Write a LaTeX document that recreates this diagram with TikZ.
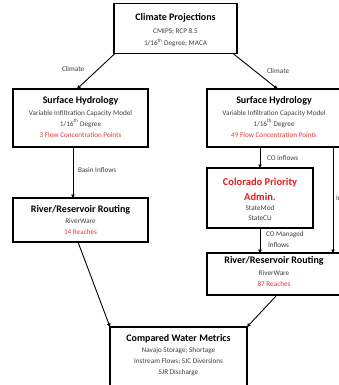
\documentclass[tikz,border=0pt]{standalone}
\usepackage{fontspec}
\setmainfont{Carlito}
\usepackage{xcolor}
\usepackage{tikz}
\usetikzlibrary{arrows.meta}
\definecolor{inkgray}{RGB}{64,64,64}
\definecolor{inkred}{RGB}{228,58,58}
\definecolor{cored}{RGB}{232,28,28}

\begin{document}
\begin{tikzpicture}[x=1pt,y=-1pt,
  box/.style={draw=black,line width=1.5pt,fill=white,inner sep=0pt,outer sep=0pt},
  title/.style={inner sep=0pt,outer sep=0pt,anchor=base,text=black,font=\bfseries\fontsize{10}{12}\selectfont},
  sub/.style={inner sep=0pt,outer sep=0pt,anchor=base,text=inkgray,font=\fontsize{7.2}{8.6}\selectfont},
  redsub/.style={sub,text=inkred},
  lbl/.style={inner sep=0pt,outer sep=0pt,anchor=base west,text=inkgray,font=\fontsize{7.2}{8.6}\selectfont},
  flow/.style={draw=black,line width=0.9pt,-{Triangle[length=3.5pt,width=3.5pt]}}]
\path[use as bounding box] (0,0) rectangle (339,385);
\path[fill=white,draw=none] (0,0) rectangle (339,385);
\node[box,minimum width=123pt,minimum height=50pt] (clim) at (175.5,28.5) {};
\node[title] (climT) at (175.5,21) {Climate Projections};
\node[sub] (climA) at (175.5,34) {CMIPS; RCP 8.5};
\node[sub] (climB) at (175.5,45.5) {1/16\textsuperscript{th} Degree; MACA};
\node[box,minimum width=135pt,minimum height=58pt] (lsh) at (80.5,118) {};
\node[title] (lshT) at (80.5,104) {Surface Hydrology};
\node[sub] (lshA) at (80.5,115) {Variable Infiltration Capacity Model};
\node[sub] (lshB) at (80.5,126) {1/16\textsuperscript{th} Degree};
\node[redsub] (lshC) at (80.5,137) {3 Flow Concentration Points};
\node[box,minimum width=134pt,minimum height=58pt] (rsh) at (274,118) {};
\node[title] (rshT) at (274,104) {Surface Hydrology};
\node[sub] (rshA) at (274,115) {Variable Infiltration Capacity Model};
\node[sub] (rshB) at (274,126) {1/16\textsuperscript{th} Degree};
\node[redsub] (rshC) at (274,137) {49 Flow Concentration Points};
\node[box,minimum width=135pt,minimum height=44pt] (lriv) at (80.5,220) {};
\node[title] (lrivT) at (80.5,212) {River/Reservoir Routing};
\node[sub] (lrivA) at (80.5,223.5) {RiverWare};
\node[redsub] (lrivB) at (80.5,234.5) {14 Reaches};
\node[box,minimum width=106pt,minimum height=60pt] (co) at (260,198) {};
\node[title,text=cored,font=\bfseries\fontsize{10.5}{12.6}\selectfont] (coT) at (260,185) {Colorado Priority};
\node[title,text=cored,font=\bfseries\fontsize{10.5}{12.6}\selectfont] (coU) at (260,200) {Admin.};
\node[sub] (coA) at (260,210.5) {StateMod};
\node[sub] (coB) at (260,220.5) {StateCU};
\node[box,minimum width=134pt,minimum height=42pt] (rriv) at (274,274) {};
\node[title] (rrivT) at (274,263) {River/Reservoir Routing};
\node[sub] (rrivA) at (274,275) {RiverWare};
\node[redsub] (rrivB) at (274,286) {87 Reaches};
\node[box,minimum width=137pt,minimum height=63pt] (cmp) at (178.5,358.5) {};
\node[title] (cmpT) at (178.5,341) {Compared Water Metrics};
\node[sub] (cmpA) at (178.5,352.5) {Navajo Storage; Shortage};
\node[sub] (cmpB) at (178.5,363.5) {Instream Flows; SJC Diversions};
\node[sub] (cmpC) at (178.5,374.5) {SJR Discharge};
\coordinate (bypass) at (333,0);
\draw[flow] ([xshift=1pt]clim.south west) -- ([xshift=-3.5pt]lsh.north);
\draw[flow] ([xshift=-4pt]clim.south east) -- ([xshift=3.5pt]rsh.north);
\draw[flow] ([xshift=-7.5pt]lsh.south) -- ([xshift=-7.5pt]lriv.north);
\draw[flow] (co.north |- rsh.south) -- (co.north);
\draw[flow] (co.south) -- (co.south |- rriv.north);
\draw[flow] (bypass |- rsh.south) -- (bypass |- rriv.north);
\draw[flow] ([xshift=-2.5pt]lriv.south) -- (cmp.north west);
\draw[flow] ([xshift=3pt]rriv.south) -- (cmp.north east);
\node[lbl] (climL) at (62,72) {Climate};
\node[lbl] (climR) at (267,74) {Climate};
\node[lbl] (basinL) at (78,172.5) {Basin Inflows};
\node[lbl] (coinL) at (267,160.5) {CO Inflows};
\node[lbl] (comgL) at (266,236.5) {CO Managed};
\node[lbl] (comgM) at (268,247.5) {Inflows};
\node[lbl] (natL) at (336,200.5) {Inflows};
\end{tikzpicture}
\end{document}
